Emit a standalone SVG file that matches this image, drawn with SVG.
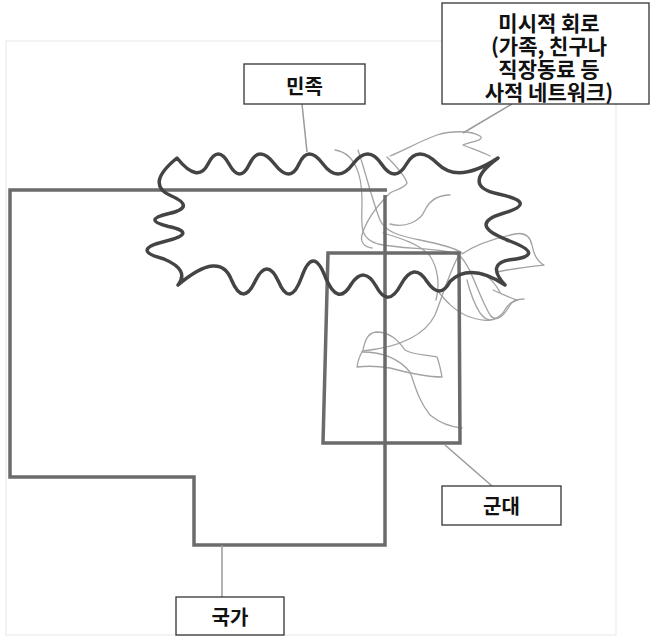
<svg xmlns="http://www.w3.org/2000/svg" width="651" height="637" viewBox="0 0 651 637">
<style>
.frame{fill:none;stroke:#efefef;stroke-width:1.5}
.thick{fill:none;stroke:#6b6b6b;stroke-width:3.5;stroke-linejoin:miter}
.wave{fill:none;stroke:#444;stroke-width:3.5;stroke-linejoin:round;stroke-linecap:round}
.thin{fill:none;stroke:#a3a3a3;stroke-width:1.3;stroke-linecap:round;stroke-linejoin:round}
.conn{fill:none;stroke:#9a9a9a;stroke-width:1.5}
.box{fill:#fff;stroke:#333;stroke-width:1.3}
.lbl{font-family:"Noto Sans CJK KR","Noto Sans",sans-serif;font-weight:bold;font-size:20px;fill:#111;text-anchor:middle;dominant-baseline:central}
.ml{font-size:21px}
</style>
<rect width="651" height="637" fill="#fff"/>
<rect class="frame" x="6" y="41" width="610" height="594"/>

<g id="micro-tangle">
<path class="thin" d="M335,150 C355,153 362,175 362,200 C362,225 358,238 378,244 C405,250 445,247 460,256 C472,268 478,295 490,315 C497,324 505,314 510,305 C513,300 518,299 524,299"/>
<path class="thin" d="M390,156 C405,150 418,142 437,135 C450,131 470,130 480,136 C486,140 470,142 463,145 C470,148 482,152 490,156"/>
<path class="thin" d="M387,157 C395,165 405,175 407,183 C405,188 395,190 390,193 C378,205 366,220 362,235 C360,243 365,247 372,248"/>
<path class="thin" d="M450,195 C438,195 430,200 425,210 C420,222 405,228 390,224"/>
<path class="thin" d="M358,150 C365,170 372,200 380,220 C385,232 400,236 420,240 C440,244 455,248 462,253"/>
<path class="thin" d="M383,233 C400,238 420,244 430,256 C438,268 440,285 436,300"/>
<path class="thin" d="M462,254 C475,245 495,238 515,234 C525,232 530,236 532,245 C534,256 538,262 544,265 C535,266 515,268 497,272"/>
<path class="thin" d="M437,290 C445,300 455,312 470,317 C485,322 495,322 503,313 C506,307 510,301 518,300"/>
<path class="thin" d="M467,280 C470,292 475,305 480,313 C484,318 487,320 490,320"/>
<path class="thin" d="M483,273 C490,278 496,285 500,292 M493,290 C502,294 510,298 517,300"/>
<path class="thin" d="M460,253 C450,270 443,295 435,315 C425,335 400,347 363,351"/>
<path class="thin" d="M363,350 C365,340 368,333 376,332 C390,332 398,340 405,350 C412,355 430,355 437,357 C440,365 441,372 442,377 C425,377 405,372 390,368 C378,366 365,366 357,367 C358,360 360,355 363,350"/>
<path class="thin" d="M362,352 C385,352 400,360 410,372 C415,385 418,400 430,415 C440,423 450,427 462,428"/>
</g>

<g id="nation">
<path class="thick" d="M387,190 H10 V477 H194 V545 H385 V195"/>
</g>

<g id="army">
<path class="thick" d="M328,253 L459,253 L460,443 L323,443 Z"/>
</g>

<g id="ethnic">
<path class="wave" d="M177,158 Q198,184 208,164 Q218,144 229,164 Q240,184 249.5,164 Q259,144 274.5,164 Q290,184 299,164 Q308,144 323,164 Q338,184 353,164 Q368,144 381.5,164 Q395,184 406.5,164 Q418,144 438,164 Q458,184 498,158 Q460,186 498.5,194 Q540,203 502.5,213.5 Q468,224 506,239.5 Q548,255 512,259.5 Q485,263 505,285 Q470,262 450,281.5 Q440,300.5 427,281.5 Q414,261 401,284.5 Q388,309 376,286 Q364,265 351,284.5 Q338,307 325.5,277.5 Q313,244.5 301.5,277.5 Q290,308.5 278.5,281.5 Q267,256.5 255,281.5 Q243,307 231.5,280 Q220,249.5 178,285 Q190,270 164,259 Q130,250 164.5,241.5 Q199,233 168.5,226.5 Q141,220 169,213.5 Q197,207 170.5,195.5 Q145,184 177,158 Z"/>
</g>

<g id="connectors">
<line class="conn" x1="302" y1="104" x2="307" y2="152"/>
<line class="conn" x1="512" y1="104" x2="463" y2="133"/>
<line class="conn" x1="445" y1="445" x2="492" y2="486"/>
<line class="conn" x1="222" y1="545" x2="222" y2="597"/>
</g>

<g id="label-ethnic">
<rect class="box" x="244" y="64" width="121" height="40"/>
<text class="lbl" x="304.5" y="85">민족</text>
</g>

<g id="label-micro">
<rect class="box" x="442" y="3" width="207" height="101"/>
<text class="lbl ml" x="549" y="22"><tspan x="549">미시적 회로</tspan><tspan x="549" dy="23">(가족, 친구나</tspan><tspan x="549" dy="23">직장동료 등</tspan><tspan x="549" dy="23">사적 네트워크)</tspan></text>
</g>

<g id="label-army">
<rect class="box" x="442" y="486" width="119" height="39"/>
<text class="lbl" x="501.5" y="505.5">군대</text>
</g>

<g id="label-nation">
<rect class="box" x="176" y="597" width="108" height="38"/>
<text class="lbl" x="230" y="616">국가</text>
</g>
</svg>
